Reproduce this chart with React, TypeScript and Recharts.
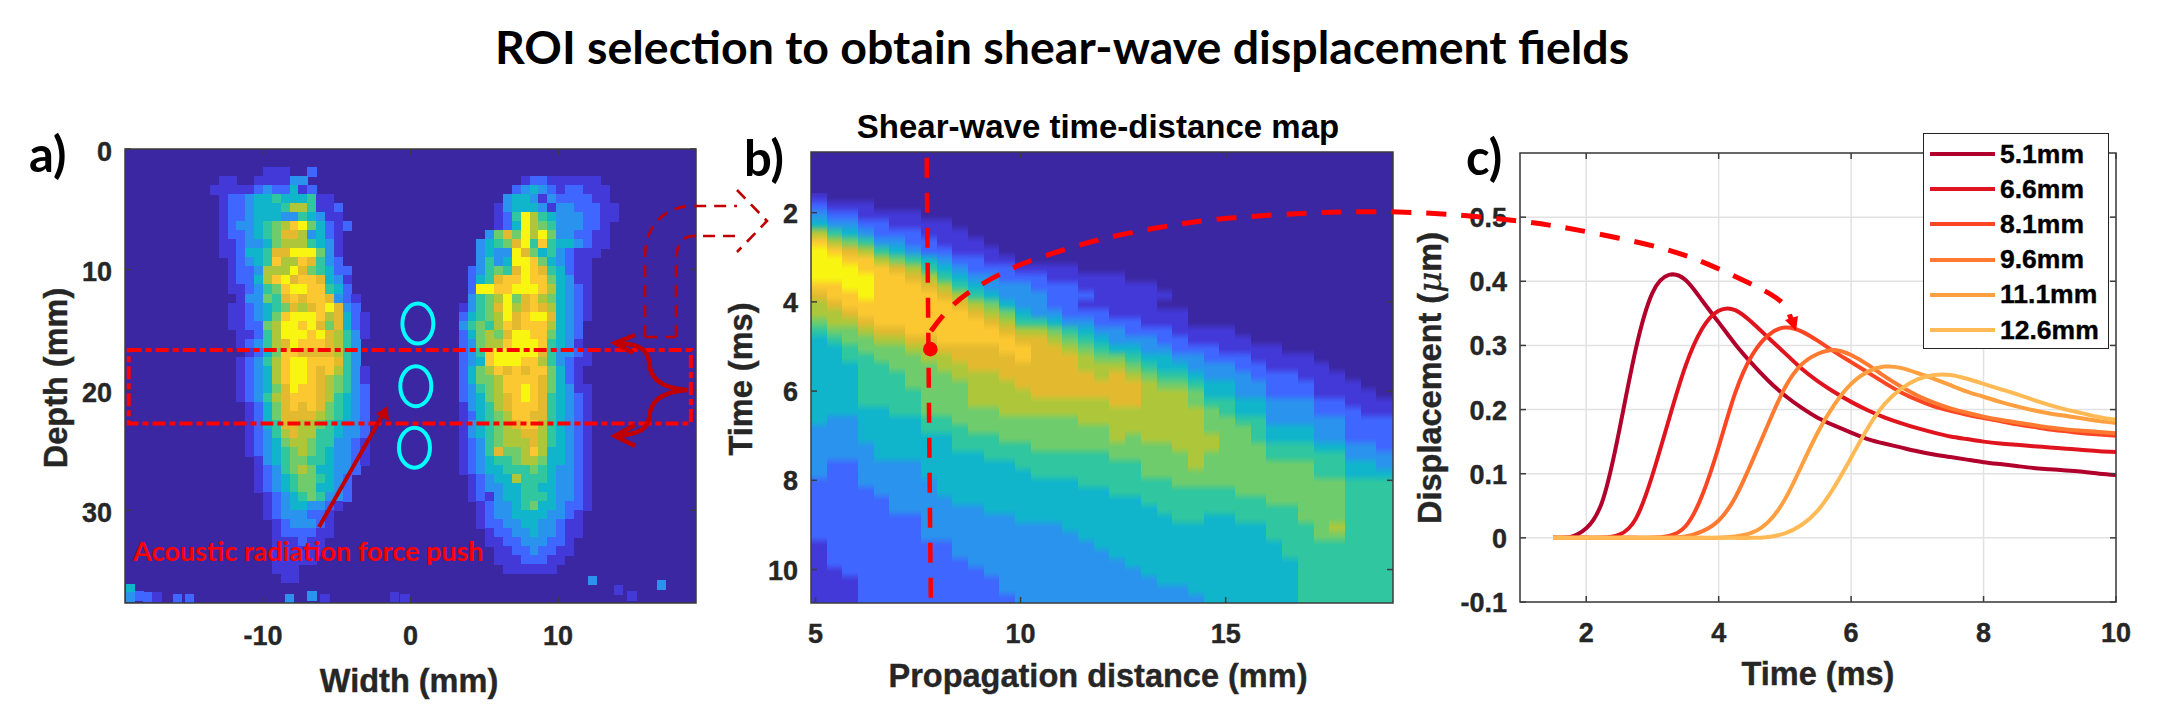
import React from "react";
import {
  CartesianGrid,
  LineChart,
  Line,
  Legend,
  ReferenceArea,
  ReferenceLine,
  Scatter,
  ScatterChart,
  XAxis,
  YAxis,
} from "recharts";

const W = 2157;
const H = 719;

// parula-like colour levels, index = hex digit used in the map rows
const levels = [
  "#3B27A2", "#4338D8", "#3F66FF", "#2A93EE", "#10B5CC", "#2FC6A0",
  "#6FCC6C", "#AEC73A", "#E3BA2F", "#FBC832", "#F8F510",
];

// a) left band, first row at depth 1.5 mm, one char = 0.6 mm wide, 0.75 mm deep
const leftBandRows = [
  "000000111002", "011001111330", "1111123224120", "01223445444511",
  "012234445775112", "012234443354311", "0123345679a64212", "012234568873421",
  "011233467775431", "011244588aaa631", "001234597798532", "001223777a865422",
  "00122479a8998431", "001123569aa99542", "00013365898998321", "0011234568789a832",
  "001123469aaa978421", "00112267aa9a868421", "00011257aaa9a87531", "000123578a9998753",
  "00001246998888753", "000123579aa999853", "000123479aa9897531", "000123479aa9876531",
  "000123468a99876532", "000123578999875432", "000012468989865432", "000012468888765432",
  "000012458877654332", "000012357877554332", "000012346776553321", "000012345676543321",
  "000001345665543321", "00000123567644332", "0000012345665432", "0000012345664432",
  "0000001234565332", "000000123443321", "00000012333221", "00000001233321",
  "00000001222211", "0000000111211", "0000000111111", "000000011111",
  "0000000111", "0000000011",
];

// a) right band, first row at depth 2.25 mm
const rightBandRows = [
  "00000001221111110", "00000023432122111", "00000344313222211", "000013444313322211",
  "0000125a7543332211", "0000124a765333221", "0003686a7a6332211", "0034568a595443211",
  "003433a864532111", "003534aa9643211", "0235658a9854211", "0245899a9964311",
  "02aa99aaa974321", "03567a689764321", "13568a789874321", "24567a89aa84321",
  "35657989997432", "246768aa996432", "236779aaa95431", "2359aaaaa853321",
  "2349aaa99753211", "24679898996421", "24667999986421", "2356799a9864311",
  "2346789a9854321", "134578999854321", "124567998854321", "134567899754321",
  "134567788754321", "123567778754321", "123586679744321", "123455677644321",
  "123445556543321", "012344755543321", "012334455443321", "012134455543321",
  "001233456443221", "00123344443321", "00122334433211", "00012233433211",
  "0001122333221", "0000112232211", "000011122211", "00000111111",
];

// a) isolated speckles along the bottom edge
const speckleX = [-19, -19, -18.4, -17.8, -17.2, -15.8, -15, -8.2, -6.7, -5.8, -1.1, -0.4, 12.3, 14.1, 15, 17];
const speckleY = [36.5, 37.2, 37.1, 37.2, 37.2, 37.3, 37.3, 37.3, 37.1, 37.3, 37.2, 37.3, 35.8, 36.6, 37.1, 36.2];
const speckleLevel = [4, 3, 2, 2, 1, 2, 2, 3, 3, 1, 1, 1, 3, 1, 1, 3];

const roiX = [0.5, 0.36, 0.27];
const roiY = [14.5, 19.7, 24.8];

// b) one row per 0.2 ms from 1.65 ms, one char per distance column (spaces only group columns)
const mapRows = [
  "1", "2111", "3221111", "433221111", "7543222111", "97653322111",
  "a98754322111", "aa99765432211", "aaa99875432221111", "aaaa9987543322211111",
  "99aa999875433322211111", "899a9999875433322211111", "7899999998764332211111",
  "778999999987643322211111", "677899999998755433222111", "566788999999877654332221111",
  "4566778899999887654333221111", "445666778888998876544332221111",
  "44556667788889888766544332221111", "444556667788888887776544333221111",
  "4445556667778888887876554333222111", "44455566667778888888876654433222111",
  "444 5555 666 7777 8888888 777 6 44 33 222 1111",
  "444 5555 666 77777 7777 88 777 6 55 44 333 22 111",
  "444 4455 666 66777 7777 77 777 7 65 44 333 22 211",
  "433 4444 556 66666 6677 77 777 7 66 55 333 33 222",
  "333 4444 555 66666 6666 77 777 7 66 65 444 33 222",
  "333 4444 445 55666 6666 76 777 7 76 65 444 33 222",
  "333 3444 445 55556 6666 66 667 7 76 66 555 44 332",
  "333 3444 444 45555 5555 66 666 7 66 66 555 55 333",
  "322 3333 444 44455 5555 55 666 7 66 66 666 55 443",
  "322 3333 444 44445 5555 55 666 6 66 66 666 55 444",
  "222 3333 344 44444 4455 55 556 6 66 66 666 66 555",
  "222 2333 344 44444 4444 55 555 5 55 66 666 66 555",
  "222 2233 334 44444 4444 44 555 5 55 55 666 66 555",
  "222 2233 333 34444 4444 44 455 5 55 55 556 66 555",
  "222 2222 333 33344 4444 44 445 5 44 55 556 66 555",
  "222 2222 333 33333 3444 44 444 4 44 44 555 67 555",
  "222 2222 333 33333 3344 44 444 4 44 44 555 66 555",
  "122 2222 223 33333 3334 44 444 4 44 44 455 55 555",
  "122 2222 223 33333 3333 44 444 4 44 44 455 55 555",
  "122 2222 222 33333 3333 34 444 4 44 44 445 55 555",
  "112 2222 222 23333 3333 33 444 4 44 44 445 55 555",
  "111 2222 222 22333 3333 33 344 4 44 44 445 55 555",
  "111 2222 222 22333 3333 33 333 4 44 44 445 55 555",
  "111 2222 222 22233 3333 33 333 3 44 44 445 55 555",
];

// c) displacement curves, one value per entry of timeMs
const timeMs = [1.5, 1.75, 2, 2.25, 2.5, 2.75, 3, 3.25, 3.5, 3.75, 4, 4.25, 4.5, 4.75, 5, 5.25, 5.5, 5.75, 6, 6.25, 6.5, 6.75, 7, 7.25, 7.5, 7.75, 8, 8.25, 8.5, 8.75, 9, 9.25, 9.5, 9.75, 10];
const d51 = [0, 0.001, 0.015, 0.059, 0.168, 0.295, 0.382, 0.41, 0.402, 0.37, 0.336, 0.302, 0.272, 0.245, 0.222, 0.203, 0.187, 0.175, 0.164, 0.154, 0.147, 0.141, 0.135, 0.13, 0.126, 0.122, 0.118, 0.115, 0.112, 0.109, 0.107, 0.105, 0.103, 0.1, 0.098];
const d66 = [0, 0, 0, 0, 0.005, 0.03, 0.098, 0.185, 0.268, 0.326, 0.354, 0.355, 0.336, 0.312, 0.288, 0.264, 0.244, 0.227, 0.212, 0.199, 0.188, 0.179, 0.171, 0.164, 0.158, 0.154, 0.15, 0.147, 0.145, 0.143, 0.141, 0.139, 0.137, 0.135, 0.134];
const d81 = [0, 0, 0, 0, 0, 0, 0, 0.003, 0.018, 0.066, 0.142, 0.226, 0.284, 0.316, 0.328, 0.322, 0.307, 0.29, 0.274, 0.258, 0.242, 0.227, 0.215, 0.205, 0.198, 0.192, 0.187, 0.182, 0.177, 0.173, 0.169, 0.166, 0.163, 0.161, 0.159];
const d96 = [0, 0, 0, 0, 0, 0, 0, 0, 0.002, 0.01, 0.027, 0.063, 0.118, 0.178, 0.234, 0.27, 0.287, 0.293, 0.285, 0.27, 0.252, 0.236, 0.222, 0.211, 0.202, 0.195, 0.189, 0.184, 0.18, 0.176, 0.172, 0.169, 0.167, 0.165, 0.163];
const d111 = [0, 0, 0, 0, 0, 0, 0, 0, 0, 0, 0, 0.002, 0.008, 0.025, 0.06, 0.112, 0.165, 0.208, 0.24, 0.259, 0.267, 0.265, 0.257, 0.248, 0.238, 0.228, 0.22, 0.212, 0.205, 0.199, 0.194, 0.19, 0.186, 0.182, 0.179];
const d126 = [0, 0, 0, 0, 0, 0, 0, 0, 0, 0, 0, 0, 0, 0.0015, 0.007, 0.02, 0.043, 0.08, 0.125, 0.171, 0.208, 0.232, 0.247, 0.254, 0.254, 0.248, 0.24, 0.232, 0.224, 0.215, 0.207, 0.2, 0.194, 0.188, 0.184];

const seriesNames = ["5.1mm", "6.6mm", "8.1mm", "9.6mm", "11.1mm", "12.6mm"];
const seriesColors = ["#B1002B", "#E0141E", "#FC4522", "#FF7A30", "#FF9F40", "#FFBA55"];
const seriesValues = [d51, d66, d81, d96, d111, d126];

const curveData = timeMs.map((t, i) => {
  const row: Record<string, number> = { t };
  seriesNames.forEach((n, s) => (row[n] = seriesValues[s][i]));
  return row;
});

type Cell = { x: number; y: number; level: number; up?: number; down?: number };

function rowsToCells(rows: string[], x0: number, y0: number, dx: number, dy: number) {
  const out: Cell[] = [];
  rows.forEach((row, r) => {
    row.split("").forEach((ch, c) => {
      const level = parseInt(ch, 16);
      if (level > 0) out.push({ x: x0 + c * dx, y: y0 + r * dy, level });
    });
  });
  return out;
}

const depthCells = [
  ...rowsToCells(leftBandRows, -13.3, 1.875, 0.6, 0.75),
  ...rowsToCells(rightBandRows, 3.57, 2.625, 0.6, 0.75),
  ...speckleX.map((x, i) => ({ x, y: speckleY[i], level: speckleLevel[i] })),
];

// b) every cell also keeps its neighbours so it can be shaded like MATLAB's interp
const mapGrid = mapRows.map((row) => row.replace(/ /g, "").padEnd(37, "0").split("").map((ch) => parseInt(ch, 16)));
const mapCells: Cell[] = mapGrid.flatMap((row, r) =>
  row.map((level, c) => ({
    x: 5.08 + c * 0.383,
    y: 1.65 + r * 0.2,
    level,
    up: r > 0 ? mapGrid[r - 1][c] : 0,
    down: r < mapGrid.length - 1 ? mapGrid[r + 1][c] : level,
  }))
);
const shadeKeys = Array.from(new Set(mapCells.map((c) => `${c.up}-${c.level}-${c.down}`)));

const roiPoints = roiX.map((x, i) => ({ x, y: roiY[i] }));

function mixHex(a: string, b: string) {
  const ch = (s: string, i: number) => parseInt(s.slice(i, i + 2), 16);
  const m = (i: number) => Math.round((ch(a, i) + ch(b, i)) / 2);
  return `rgb(${m(1)},${m(3)},${m(5)})`;
}

const TICK_FONT = { fontFamily: "'Liberation Sans', Arial, sans-serif", fontWeight: 700, fontSize: 27, fill: "#262626", stroke: "#262626", strokeWidth: 0.4 };
const BOX = "#3c3c3c";

const heatCell = (w: number, h: number) => (p: any) => (
  <rect x={p.cx - w / 2} y={p.cy - h / 2} width={w + 0.5} height={h + 0.5} fill={levels[p.payload.level]} shapeRendering="crispEdges" />
);
const shadedCell = (w: number, h: number) => (p: any) => {
  const c = p.payload as Cell;
  return <rect x={p.cx - w / 2} y={p.cy - h / 2} width={w + 0.5} height={h + 0.5} fill={`url(#shade-${c.up}-${c.level}-${c.down})`} shapeRendering="crispEdges" />;
};

// MATLAB style: ticks point inward on both sides of the box
const xTick = (top: number, bottom: number, baseline: number) => (p: any) => (
  <g>
    <line x1={p.x} x2={p.x} y1={bottom} y2={bottom - 6} stroke={BOX} strokeWidth={1.5} />
    <line x1={p.x} x2={p.x} y1={top} y2={top + 6} stroke={BOX} strokeWidth={1.5} />
    <text x={p.x} y={baseline} textAnchor="middle" {...TICK_FONT}>{p.payload.value}</text>
  </g>
);
const yTick = (left: number, right: number, textRight: number, drop: number) => (p: any) => (
  <g>
    <line x1={left} x2={left + 6} y1={p.y} y2={p.y} stroke={BOX} strokeWidth={1.5} />
    <line x1={right} x2={right - 6} y1={p.y} y2={p.y} stroke={BOX} strokeWidth={1.5} />
    <text x={textRight} y={p.y + drop} textAnchor="end" {...TICK_FONT}>{p.payload.value}</text>
  </g>
);

const layerStyle: React.CSSProperties = { position: "absolute", left: 0, top: 0 };

function DepthMap() {
  const domainX: [number, number] = [-19.35, 19.35];
  const domainY: [number, number] = [0, 37.7];
  return (
    <div style={layerStyle}>
      <ScatterChart width={W} height={H} margin={{ left: 65, right: W - 696, top: 149, bottom: 56 }}>
        <ReferenceArea x1={domainX[0]} x2={domainX[1]} y1={domainY[0]} y2={domainY[1]} fill={levels[0]} fillOpacity={1} stroke="none" zIndex={0} />
        <XAxis type="number" dataKey="x" domain={domainX} ticks={[-10, 0, 10]} height={60} allowDataOverflow axisLine={false} tickLine={false} tick={xTick(149, 603, 645)} interval={0} />
        <YAxis type="number" dataKey="y" domain={domainY} reversed ticks={[0, 10, 20, 30]} width={60} allowDataOverflow axisLine={false} tickLine={false} tick={yTick(125, 696, 112, 12)} interval={0} />
        <Scatter data={depthCells} isAnimationActive={false} shape={heatCell(8.85, 9.02)} />
        <Scatter data={roiPoints} isAnimationActive={false} shape={(p: any) => <ellipse cx={p.cx} cy={p.cy} rx={15.5} ry={20} fill="none" stroke="#00FFFF" strokeWidth={4} />} />
        <ReferenceArea x1={-19.1} x2={19} y1={16.7} y2={22.8} fill="none" stroke="#FF0000" strokeWidth={4} strokeDasharray="13 4 6 4" zIndex={2000} />
        <ReferenceArea x1={domainX[0]} x2={domainX[1]} y1={domainY[0]} y2={domainY[1]} fill="none" stroke={BOX} strokeWidth={1.5} zIndex={2000} />
      </ScatterChart>
    </div>
  );
}

function TimeDistanceMap() {
  const domainX: [number, number] = [4.89, 19.08];
  const domainY: [number, number] = [0.64, 10.75];
  return (
    <div style={layerStyle}>
      <svg width={0} height={0} style={{ position: "absolute" }}>
        <defs>
          {shadeKeys.map((key) => {
            const [u, l, d] = key.split("-").map(Number);
            return (
              <linearGradient key={key} id={`shade-${key}`} x1="0" y1="0" x2="0" y2="1">
                <stop offset="0" stopColor={mixHex(levels[u], levels[l])} />
                <stop offset="0.5" stopColor={levels[l]} />
                <stop offset="1" stopColor={mixHex(levels[l], levels[d])} />
              </linearGradient>
            );
          })}
        </defs>
      </svg>
      <ScatterChart width={W} height={H} margin={{ left: 751, right: W - 1393, top: 152, bottom: 56 }}>
        <ReferenceArea x1={domainX[0]} x2={domainX[1]} y1={domainY[0]} y2={domainY[1]} fill={levels[0]} fillOpacity={1} stroke="none" zIndex={0} />
        <XAxis type="number" dataKey="x" domain={domainX} ticks={[5, 10, 15]} height={60} allowDataOverflow axisLine={false} tickLine={false} tick={xTick(152, 603, 643)} interval={0} />
        <YAxis type="number" dataKey="y" domain={domainY} reversed ticks={[2, 4, 6, 8, 10]} width={60} allowDataOverflow axisLine={false} tickLine={false} tick={yTick(811, 1393, 798, 10)} interval={0} />
        <Scatter data={mapCells} isAnimationActive={false} shape={shadedCell(15.7, 8.92)} />
        <ReferenceLine segment={[{ x: 7.71, y: 0.77 }, { x: 7.81, y: 10.65 }]} stroke="#FF0000" strokeWidth={4.5} strokeDasharray="20 15" zIndex={2000} />
        <Scatter data={[{ x: 7.8, y: 5.06 }]} isAnimationActive={false} shape={(p: any) => <circle cx={p.cx} cy={p.cy} r={7.3} fill="#FF0000" />} />
        <ReferenceArea x1={domainX[0]} x2={domainX[1]} y1={domainY[0]} y2={domainY[1]} fill="none" stroke={BOX} strokeWidth={1.5} zIndex={2000} />
      </ScatterChart>
    </div>
  );
}

function CurveLegend() {
  return (
    <div style={{ width: 186, height: 216, boxSizing: "border-box", background: "#fff", border: "1.5px solid #222", position: "relative" }}>
      {seriesNames.map((n, i) => (
        <div key={n} style={{ position: "absolute", left: 0, top: 4 + i * 35.2, height: 32, display: "flex", alignItems: "center" }}>
          <span style={{ display: "block", marginLeft: 6, width: 65, height: 4, background: seriesColors[i] }} />
          <span style={{ marginLeft: 5, font: "700 26.5px 'Liberation Sans', Arial, sans-serif", color: "#000", WebkitTextStroke: "0.4px #000" }}>{n}</span>
        </div>
      ))}
    </div>
  );
}

function CurvesPanel() {
  return (
    <div style={layerStyle}>
      <LineChart width={W} height={H} data={curveData} margin={{ left: 1460, right: W - 2116, top: 153, bottom: 57 }}>
        <CartesianGrid stroke="#E2E2E2" strokeWidth={1.5} />
        <XAxis type="number" dataKey="t" domain={[1, 10]} ticks={[2, 4, 6, 8, 10]} height={60} allowDataOverflow axisLine={false} tickLine={false} tick={xTick(153, 602, 642)} interval={0} />
        <YAxis type="number" domain={[-0.1, 0.6]} ticks={[-0.1, 0, 0.1, 0.2, 0.3, 0.4, 0.5]} width={60} allowDataOverflow axisLine={false} tickLine={false} tick={yTick(1520, 2116, 1507, 10)} interval={0} />
        {seriesNames.map((n, i) => (
          <Line key={n} dataKey={n} stroke={seriesColors[i]} strokeWidth={4} dot={false} type="natural" isAnimationActive={false} />
        ))}
        <ReferenceArea x1={1} x2={10} y1={-0.1} y2={0.6} fill="none" stroke={BOX} strokeWidth={1.5} zIndex={2000} />
        <Legend layout="horizontal" verticalAlign="middle" wrapperStyle={{ left: 1923, top: 133, width: 186, height: 216 }} content={() => <CurveLegend />} />
      </LineChart>
    </div>
  );
}

// free annotations that run across the panels, in page pixels
const sweepArc = "M931 331 C 940 318 952 304 968 293 S 1010 268 1030 261 S 1075 246 1098 240 S 1170 225 1201 221 S 1300 213 1341 212 S 1430 212 1481 217 S 1555 225 1618 238 S 1700 260 1749 283 S 1785 312 1793 322";
const labelFont = "'Liberation Sans', Arial, sans-serif";
const calloutFont = "Lato, 'Open Sans', sans-serif";

function Annotations() {
  const axisTitle = { fontFamily: labelFont, fontWeight: 700, fontSize: 32.5, fill: "#262626", stroke: "#262626", strokeWidth: 0.4, textAnchor: "middle" as const };
  const panelTag = { fontFamily: calloutFont, fontWeight: 700, fontSize: 49, fill: "#000" };
  return (
    <svg width={W} height={H} style={{ ...layerStyle, overflow: "visible" }}>
      <text x={1062} y={64} textAnchor="middle" fontFamily={calloutFont} fontWeight={700} fontSize={46.5} fill="#000">ROI selection to obtain shear-wave displacement fields</text>
      <text x={1098} y={138} textAnchor="middle" fontFamily={labelFont} fontWeight={700} fontSize={33} fill="#000">Shear-wave time-distance map</text>
      <text x={29} y={172} {...panelTag}>a)</text>
      <text x={744} y={176} {...panelTag}>b)</text>
      <text x={1466} y={175} {...panelTag}>c)</text>

      <text x={409} y={692} {...axisTitle}>Width (mm)</text>
      <text x={1098} y={687} {...axisTitle}>Propagation distance (mm)</text>
      <text x={1818} y={685} {...axisTitle}>Time (ms)</text>
      <text transform="translate(67 378) rotate(-90)" {...axisTitle}>Depth (mm)</text>
      <text transform="translate(752 379) rotate(-90)" {...axisTitle}>Time (ms)</text>
      <text transform="translate(1441 378) rotate(-90)" {...axisTitle}>Displacement (<tspan fontStyle="italic" fontWeight={400} fontFamily="'DejaVu Serif', serif">μ</tspan>m)</text>

      <text x={133} y={561} fontFamily={calloutFont} fontWeight={700} fontSize={27} fill="#FF0000">Acoustic radiation force push</text>
      <line x1={319} y1={527} x2={383} y2={414} stroke="#C00000" strokeWidth={4} />
      <path d="M387.5 406 L376 414 L389 421 Z" fill="#C00000" />

      <g fill="none" stroke="#C00000" strokeWidth={4.5}>
        <path d="M687 390 C 660 388 650 378 649 362 C 648 350 640 344 617 343" />
        <path d="M687 390 C 660 392 650 402 649 418 C 648 428 640 434 617 436" />
        <path d="M635 335 L615 343 L633 353" />
        <path d="M635 425 L615 436 L635 446" />
      </g>
      <g fill="none" stroke="#C00000" strokeWidth={2.6} strokeDasharray="12 8">
        <path d="M645 337 L676 337" />
        <path d="M645 337 L645 257 C 645 225 665 206 693 206 L737 206" />
        <path d="M676 337 L676 262 C 676 245 682 236 693 236 L737 236" />
        <path d="M737 190 L767 221 L737 252" />
      </g>

      <path d={sweepArc} fill="none" stroke="#FF0000" strokeWidth={5} strokeDasharray="20 15" />
      <path d="M1785 320 L1798 316 L1796 331 Z" fill="#FF0000" />
    </svg>
  );
}

export default function App() {
  return (
    <div style={{ position: "absolute", left: 0, top: 0, width: W, height: H, background: "#fff", overflow: "hidden" }}>
      <DepthMap />
      <TimeDistanceMap />
      <CurvesPanel />
      <Annotations />
    </div>
  );
}
